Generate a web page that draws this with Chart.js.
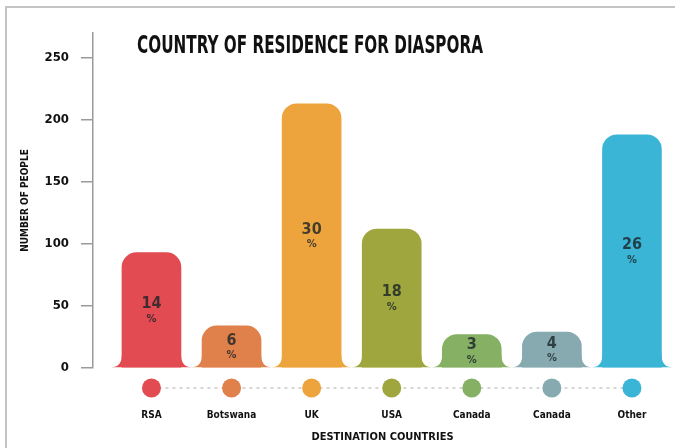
<!DOCTYPE html>
<html lang="en">
<head>
	<meta charset="UTF-8">
	<title>diaspora</title>
	<script src="https://cdn.jsdelivr.net/npm/chart.js@4/dist/chart.umd.min.js"></script>
	<style>
		body { margin:0; background:#fff; }
		#wrap { position:relative; width:675px; height:448px; }
		#frame { position:absolute; left:5px; top:6px; right:0; bottom:0; border-top:2px solid #c4c4c4; border-left:2px solid #c4c4c4; }
		canvas { position:absolute; left:0; top:0; }
	</style>
</head>
<body>
	<div id="wrap">
		<div id="frame"></div>
		<canvas id="chart" width="675" height="448"></canvas>
	</div>

	<script>

		var countries=["RSA","Botswana","UK","USA","Canada","Canada","Other"];
		var people=[93,34,213,112,27,29,188];
		var percents=[14,6,30,18,3,4,26];
		var colors=["#e14b51","#e0804b","#eea43d","#9ea63d","#86b064","#86aab0","#3bb5d5"];
		var yTicks=[0,50,100,150,200,250];

		var FONT="'DejaVu Sans Condensed','Liberation Sans Narrow',sans-serif";

		// bars flare out at the bottom
		var flare={
			id:"flare",
			beforeDatasetsDraw:function(chart){
				var ctx=chart.ctx;
				chart.getDatasetMeta(0).data.forEach(function(el,i){
					var l=el.x-el.width/2, r=el.x+el.width/2, b=el.base;
					var h=Math.min(13,(b-el.y)/2);
					ctx.save();
					ctx.fillStyle=colors[i];
					ctx.beginPath();
					ctx.moveTo(l,b-h);
					ctx.quadraticCurveTo(l,b,l-11,b);
					ctx.lineTo(r+11,b);
					ctx.quadraticCurveTo(r,b,r,b-h);
					ctx.closePath();
					ctx.fill();
					ctx.restore();
				});
			}
		};

		// percent text, markers under the axis, and the title
		var extras={
			id:"extras",
			afterDatasetsDraw:function(chart){
				var ctx=chart.ctx, area=chart.chartArea, xs=chart.scales.x;
				var meta=chart.getDatasetMeta(0);

				ctx.save();
				ctx.textAlign="center";
				ctx.textBaseline="middle";
				ctx.fillStyle="rgba(25,35,40,0.8)";
				meta.data.forEach(function(el,i){
					var cy=(el.y+el.base)/2;
					ctx.font="bold 16px "+FONT;
					ctx.fillText(percents[i],el.x,cy-6);
					ctx.font="bold 11px "+FONT;
					ctx.fillText("%",el.x,cy+9);
				});

				var my=area.bottom+20;
				ctx.setLineDash([3,4]);
				ctx.strokeStyle="#c9c9c9";
				ctx.lineWidth=1.5;
				ctx.beginPath();
				ctx.moveTo(xs.getPixelForValue(0),my);
				ctx.lineTo(xs.getPixelForValue(countries.length-1),my);
				ctx.stroke();
				ctx.setLineDash([]);
				countries.forEach(function(c,i){
					ctx.fillStyle=colors[i];
					ctx.beginPath();
					ctx.arc(xs.getPixelForValue(i),my,9.5,0,Math.PI*2);
					ctx.fill();
				});

				ctx.fillStyle="#111";
				ctx.font="bold 24px "+FONT;
				var t="COUNTRY OF RESIDENCE FOR DIASPORA";
				var w=ctx.measureText(t).width;
				ctx.translate(310,47);
				ctx.scale(346/w,1);
				ctx.fillText(t,0,0);
				ctx.restore();
			}
		};

		new Chart(document.getElementById("chart"),{
			type:"bar",
			data:{
				datasets:[{
					data:countries.map(function(c,i){ return {x:i,y:people[i]}; }),
					backgroundColor:colors,
					borderRadius:{topLeft:15,topRight:15},
					borderSkipped:"bottom",
					barThickness:59
				}]
			},
			options:{
				responsive:false,
				animation:false,
				layout:{padding:{top:33,right:3,left:0,bottom:0}},
				plugins:{legend:{display:false},tooltip:{enabled:false}},
				scales:{
					x:{
						type:"linear",
						offset:false,
						min:-0.73,
						max:6.5,
						grid:{display:false},
						border:{display:false},
						afterBuildTicks:function(scale){
							scale.ticks=countries.map(function(c,i){ return {value:i}; });
						},
						afterFit:function(scale){
							scale.height=80;
							scale.paddingLeft=0;
							scale.paddingRight=0;
						},
						ticks:{
							padding:33,
							autoSkip:false,
							maxRotation:0,
							color:"#111",
							font:{family:FONT,weight:"bold",size:10},
							callback:function(v){ return countries[v]; }
						},
						title:{
							display:true,
							text:"DESTINATION COUNTRIES",
							color:"#111",
							padding:{top:10},
							font:{family:FONT,weight:"bold",size:11}
						}
					},
					y:{
						min:0,
						max:270,
						afterBuildTicks:function(scale){
							scale.ticks=yTicks.map(function(v){ return {value:v}; });
						},
						afterFit:function(scale){
							scale.width=93;
							scale.paddingTop=0;
							scale.paddingBottom=0;
						},
						grid:{drawOnChartArea:false,tickLength:12,color:"#9a9a9a",lineWidth:1.5},
						border:{color:"#9a9a9a",width:1.5},
						ticks:{
							padding:12,
							color:"#111",
							font:{family:FONT,weight:"bold",size:13}
						},
						title:{
							display:true,
							text:"NUMBER OF PEOPLE",
							color:"#111",
							padding:{top:19,bottom:0},
							font:{family:FONT,weight:"bold",size:10}
						}
					}
				}
			},
			plugins:[flare,extras]
		});

	</script>

</body>
</html>
